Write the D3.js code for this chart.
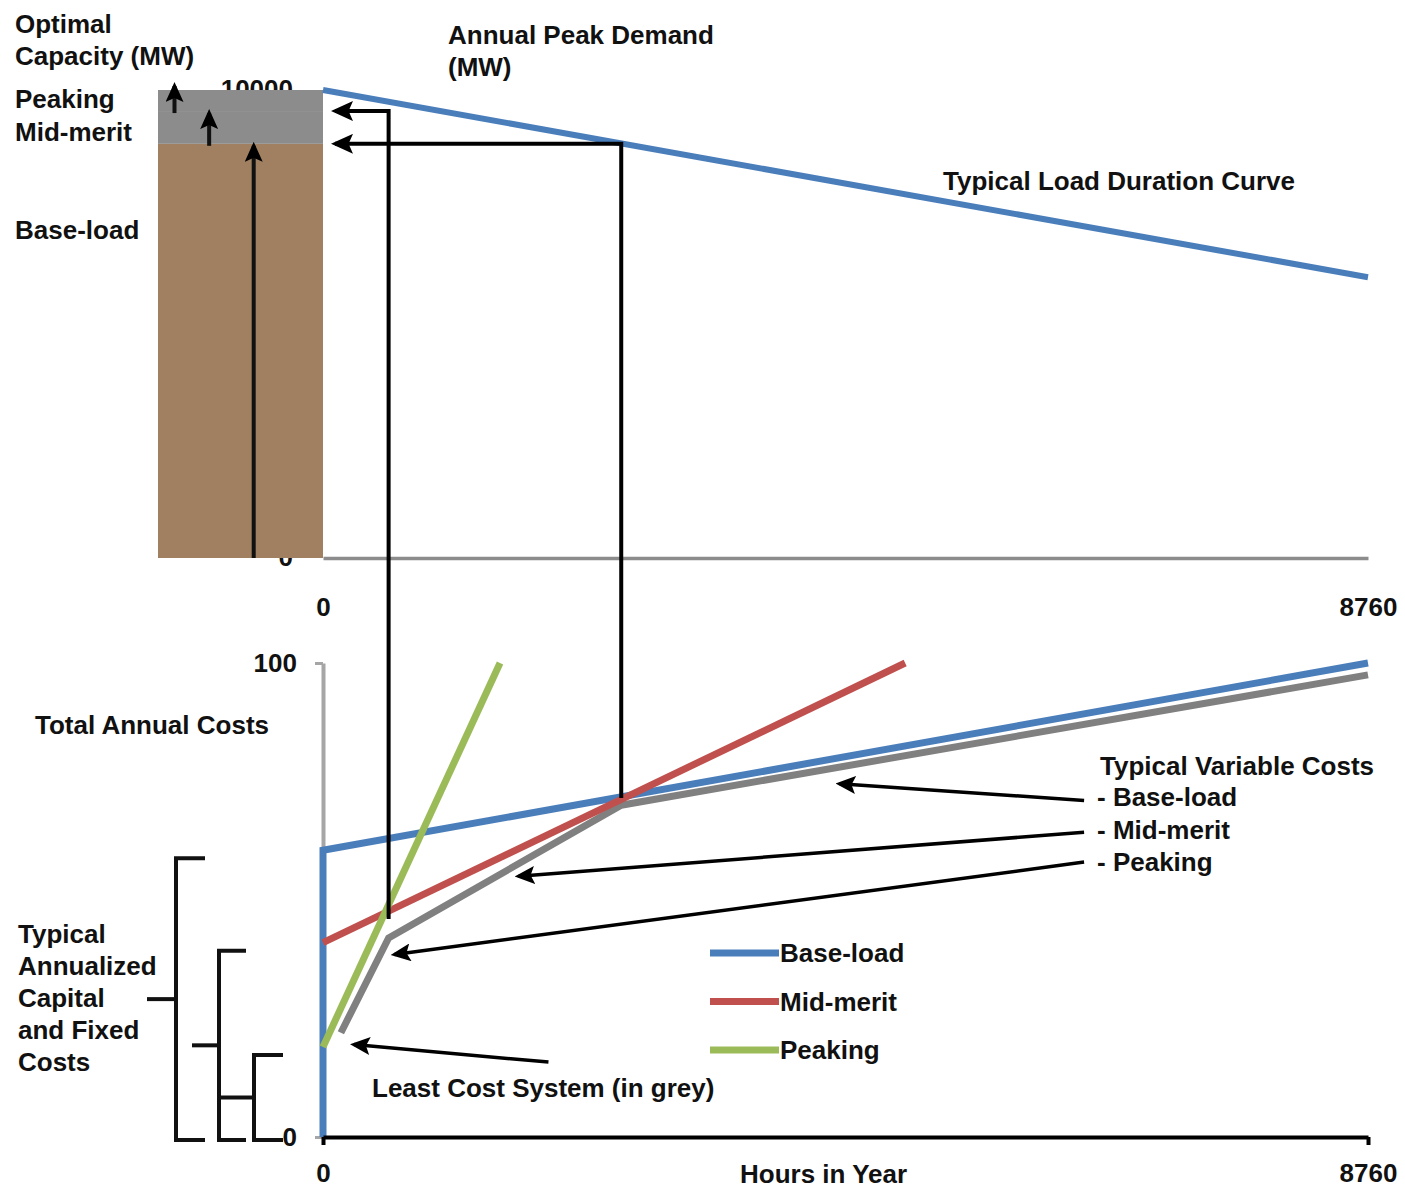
<!DOCTYPE html>
<html><head><meta charset="utf-8">
<script src="https://cdn.jsdelivr.net/npm/d3@7"></script>
<style>
body{margin:0;background:#fff}
text{font-family:"Liberation Sans",Arial,sans-serif;font-weight:bold;fill:#111}
</style>
</head><body>
<svg id="c" width="1405" height="1191"></svg>
<script>
// ---------- data ----------
const hourTicks = [0, 8760];
const ldcHours = [0, 8760];
const ldcMW = [10000, 6000];

const capacityTypes = ["Base-load", "Mid-merit", "Peaking"];
const capacityMW = [8850, 700, 450];
const capacityColors = ["#a08060", "#8c8c8c", "#8c8c8c"];

const seriesNames = ["Base-load", "Mid-merit", "Peaking"];
const seriesColors = ["#4a7ebb", "#c0504d", "#9bbb59"];
const baseHours = [0, 0, 8760];
const baseCost = [0, 60.5, 100];
const midHours = [0, 4880];
const midCost = [41, 100];
const peakHours = [0, 1484];
const peakCost = [19, 100];
const fixedCost = [60.5, 41, 19];

const leastHours = [150, 550, 2500, 8760];
const leastCost = [22, 42, 70, 97.5];

const crossHours = [550, 2500];      // peaking/mid-merit and mid-merit/base-load crossovers
const crossCost = [46, 71.5];
const crossMW = [9550, 8850];

const costTicks = [0, 100];
const mwTicks = [0, 10000];

// ---------- layout ----------
const svg = d3.select("#c");
const x = d3.scaleLinear().domain([0, 8760]).range([323, 1368]);
const yTop = d3.scaleLinear().domain([0, 10000]).range([558, 90]);
const yBot = d3.scaleLinear().domain([0, 100]).range([1137, 663]);
const barX0 = 158, barX1 = 323;
const FS = 26;

const defs = svg.append("defs");
function marker(id, w, h) {
  defs.append("marker").attr("id", id).attr("viewBox", `0 0 ${w} ${h}`)
    .attr("refX", w - 4).attr("refY", h / 2).attr("markerWidth", w).attr("markerHeight", h)
    .attr("markerUnits", "userSpaceOnUse").attr("orient", "auto")
    .append("path").attr("d", `M0,0 L${w},${h/2} L0,${h} L${w*0.2},${h/2} Z`).attr("fill", "#000");
}
marker("ah", 22, 20);
marker("ahs", 20, 18);

function txt(t, px, py, opts = {}) {
  const e = svg.append("text").attr("x", px).attr("y", py).text(t)
    .style("font-size", (opts.size || FS) + "px");
  if (opts.anchor) e.attr("text-anchor", opts.anchor);
  return e;
}
function styleTicks(g) {
  g.selectAll("text").style("font-size", "26px").style("font-family", "Liberation Sans, Arial")
    .style("font-weight", "bold").attr("fill", "#111");
}

// ---------- top chart ----------
const topY = svg.append("g").attr("transform", `translate(${barX1 - 30},0)`)
  .call(d3.axisLeft(yTop).tickValues(mwTicks).tickSize(0).tickPadding(0).tickFormat(d3.format("d")));
topY.select(".domain").remove();
styleTicks(topY);
topY.selectAll("text").attr("dy", "0.3em");

// stacked capacity bar
let acc = 0;
capacityMW.forEach((v, i) => {
  svg.append("rect").attr("x", barX0).attr("width", barX1 - barX0)
    .attr("y", yTop(acc + v)).attr("height", yTop(acc) - yTop(acc + v))
    .attr("fill", capacityColors[i]);
  acc += v;
});

// x axis top
const topX = svg.append("g").attr("transform", `translate(0,${yTop(0)})`)
  .call(d3.axisBottom(x).tickValues(hourTicks).tickSize(0).tickPadding(40).tickSizeOuter(0).tickFormat(d3.format("d")));
topX.select(".domain").attr("stroke", "#8c8c8c").attr("stroke-width", 3.5);
styleTicks(topX);

// load duration curve
svg.append("path").datum(ldcHours.map((h, i) => [h, ldcMW[i]]))
  .attr("d", d3.line().x(d => x(d[0])).y(d => yTop(d[1])))
  .attr("fill", "none").attr("stroke", "#4a7ebb").attr("stroke-width", 6);

// up arrows inside bar
const arrowFrac = [0.58, 0.31, 0.1];
let acc2 = 0;
capacityMW.forEach((v, i) => {
  const ax = barX0 + (barX1 - barX0) * arrowFrac[i];
  const yb = yTop(acc2), yt = yTop(acc2 + v) + (i === 2 ? -4 : 2);
  svg.append("line").attr("x1", ax).attr("x2", ax).attr("y1", i === 0 ? yb : yb + 2).attr("y2", yt)
    .attr("stroke", "#111").attr("stroke-width", 4).attr("marker-end", "url(#ahs)");
  acc2 += v;
});

// ---------- bottom chart ----------
const botY = svg.append("g").attr("transform", `translate(${x(0)},0)`)
  .call(d3.axisLeft(yBot).tickValues(costTicks).tickSize(8).tickPadding(18).tickSizeOuter(0));
botY.select(".domain").attr("stroke", "#a6a6a6").attr("stroke-width", 4);
botY.selectAll(".tick line").attr("stroke", "#a6a6a6").attr("stroke-width", 3);
styleTicks(botY);

const line = d3.line().x(d => x(d[0])).y(d => yBot(d[1]));
svg.append("path").datum(leastHours.map((h, i) => [h, leastCost[i]]))
  .attr("d", line).attr("fill", "none").attr("stroke", "#808080").attr("stroke-width", 7);
const seriesPts = [
  baseHours.map((h, i) => [h, baseCost[i]]),
  midHours.map((h, i) => [h, midCost[i]]),
  peakHours.map((h, i) => [h, peakCost[i]])
];
seriesPts.forEach((pts, i) => {
  svg.append("path").datum(pts).attr("d", line).attr("fill", "none")
    .attr("stroke", seriesColors[i]).attr("stroke-width", 7).attr("stroke-linejoin", "miter");
});

const botX = svg.append("g").attr("transform", `translate(0,${yBot(0)})`)
  .call(d3.axisBottom(x).tickValues(hourTicks).tickSize(8).tickPadding(19).tickSizeOuter(0).tickFormat(d3.format("d")));
botX.select(".domain").attr("stroke", "#000").attr("stroke-width", 4);
botX.selectAll(".tick line").attr("stroke", "#000").attr("stroke-width", 4);
styleTicks(botX);

// crossover connectors to the capacity bar
crossHours.forEach((h, i) => {
  const px = x(h);
  svg.append("path")
    .attr("d", `M${px},${yBot(crossCost[i])} L${px},${yTop(crossMW[i])} L${barX1 + 12},${yTop(crossMW[i])}`)
    .attr("fill", "none").attr("stroke", "#000").attr("stroke-width", 4).attr("marker-end", "url(#ah)");
});

// pointer arrows from labels
const pointers = [
  {from: [6380, 71], to: [4330, 74.5]},
  {from: [6380, 64.3], to: [1640, 55]},
  {from: [6380, 58], to: [600, 38.5]},
  {from: [1890, 15.8], to: [260, 19.5]}
];
pointers.forEach(p => {
  svg.append("line").attr("x1", x(p.from[0])).attr("y1", yBot(p.from[1]))
    .attr("x2", x(p.to[0])).attr("y2", yBot(p.to[1]))
    .attr("stroke", "#000").attr("stroke-width", 3.5).attr("marker-end", "url(#ahs)");
});

// brackets for fixed costs
const bracketX = [176, 219, 254];
const bracketArm = [29, 27, 29];
const bracketTickFrom = [147, 192, 219];
fixedCost.forEach((fc, i) => {
  const top = yBot(fc) + 8, bot = yBot(0) + 3, bx = bracketX[i];
  svg.append("path").attr("d", `M${bx + bracketArm[i]},${top} H${bx} V${bot} H${bx + bracketArm[i]}`)
    .attr("fill", "none").attr("stroke", "#111").attr("stroke-width", 4);
  svg.append("line").attr("x1", bracketTickFrom[i]).attr("x2", bx).attr("y1", (top + bot) / 2).attr("y2", (top + bot) / 2)
    .attr("stroke", "#111").attr("stroke-width", 4);
});

// legend
seriesNames.forEach((n, i) => {
  const ly = 953 + i * 48.5;
  svg.append("line").attr("x1", 710).attr("x2", 779).attr("y1", ly).attr("y2", ly)
    .attr("stroke", seriesColors[i]).attr("stroke-width", 7);
  txt(n, 780, ly + 9);
});

// ---------- texts ----------
txt("Optimal", 15, 33);
txt("Capacity (MW)", 15, 65);
txt(capacityTypes[2], 15, 108);
txt(capacityTypes[1], 15, 141);
txt(capacityTypes[0], 15, 239);
txt("Annual Peak Demand", 448, 44);
txt("(MW)", 448, 76);
txt("Typical Load Duration  Curve", 943, 190);
txt("Total Annual Costs", 35, 734);
txt("Typical Variable  Costs", 1100, 775);
txt("- Base-load", 1097, 806);
txt("- Mid-merit", 1097, 839);
txt("- Peaking", 1097, 871);
["Typical", "Annualized", "Capital", "and Fixed", "Costs"].forEach((t, i) => txt(t, 18, 943 + i * 32));
txt("Least Cost System (in grey)", 372, 1097);
txt("Hours in Year", 740, 1183);
</script>
</body></html>
